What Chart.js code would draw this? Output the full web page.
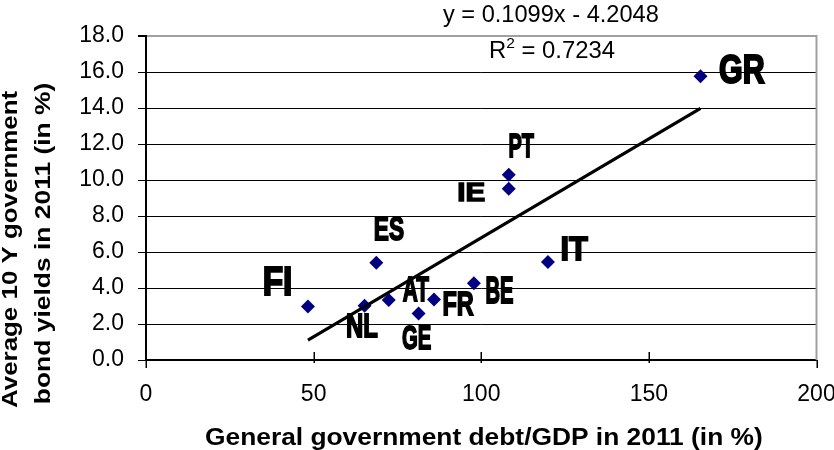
<!DOCTYPE html>
<html><head><meta charset="utf-8">
<script src="https://cdn.jsdelivr.net/npm/chart.js@4.4.1/dist/chart.umd.min.js"></script>
<style>html,body{margin:0;padding:0;background:#fff;}canvas{display:block;}</style>
</head><body>
<canvas id="c" width="834" height="450"></canvas>
<script>
// ---- data ----
const countries = ['FI','NL','ES','AT','GE','FR','BE','IT','IE','PT','GR'];
const debtToGdp = [48.3, 65.2, 68.7, 72.4, 81.3, 85.9, 97.8, 119.9, 108.2, 108.2, 165.4];
const bondYields = [2.97, 3.01, 5.40, 3.33, 2.58, 3.36, 4.26, 5.45, 9.51, 10.29, 15.77];
const xTickValues = [0, 50, 100, 150, 200];
const yTickValues = [0, 2, 4, 6, 8, 10, 12, 14, 16, 18];
const trendSlope = 0.1099;
const trendIntercept = -4.2048;
const equationText = 'y = 0.1099x - 4.2048';
const r2Value = '0.7234';
const xTitle = 'General government debt/GDP in 2011 (in %)';
const yTitleLines = ['Average 10 Y government', 'bond yields in 2011 (in %)'];

// ---- styles (positions/sizes of text annotations) ----
const FONT = '"Liberation Sans", Arial, sans-serif';
const labelStyle = {
  FI: {dx: -30, dy: -25, w: 26, h: 27},
  NL: {dx: -2, dy: 20, w: 30, h: 22},
  ES: {dx: 13, dy: -34, w: 28, h: 22},
  AT: {dx: 27, dy: -11, w: 26, h: 23},
  GE: {dx: -2, dy: 24, w: 28, h: 22},
  FR: {dx: 25, dy: 4, w: 30, h: 22},
  BE: {dx: 26, dy: 8, w: 26, h: 24},
  IT: {dx: 27, dy: -13, w: 25, h: 22},
  IE: {dx: -37, dy: 4, w: 25, h: 17},
  PT: {dx: 13, dy: -29, w: 24, h: 22},
  GR: {dx: 42, dy: -7, w: 45, h: 27}
};

const points = debtToGdp.map((x, i) => ({x: x, y: bondYields[i]}));
const xMin = Math.min(...debtToGdp), xMax = Math.max(...debtToGdp);
const trendPoints = [xMin, xMax].map(x => ({x: x, y: trendSlope * x + trendIntercept}));

function drawInkBox(ctx, text, cx, cy, w, h, weight) {
  ctx.save();
  ctx.font = weight + ' 30px ' + FONT;
  ctx.textAlign = 'left'; ctx.textBaseline = 'alphabetic';
  const m = ctx.measureText(text);
  const L = m.actualBoundingBoxLeft, R = m.actualBoundingBoxRight;
  const A = m.actualBoundingBoxAscent, D = m.actualBoundingBoxDescent;
  const sx = w / (L + R), sy = h / (A + D);
  ctx.translate(cx, cy);
  ctx.scale(sx, sy);
  ctx.lineWidth = 1.6;
  ctx.lineJoin = 'miter';
  ctx.strokeStyle = '#000';
  ctx.fillText(text, (L - R) / 2, (A - D) / 2);
  ctx.strokeText(text, (L - R) / 2, (A - D) / 2);
  ctx.restore();
}
function drawLine(ctx, text, x, y, size, inkW, weight, rotate) {
  ctx.save();
  ctx.font = weight + ' ' + size + 'px ' + FONT;
  ctx.textAlign = 'left'; ctx.textBaseline = 'alphabetic';
  const m = ctx.measureText(text);
  const L = m.actualBoundingBoxLeft, R = m.actualBoundingBoxRight;
  ctx.translate(x, y);
  if (rotate) ctx.rotate(-Math.PI / 2);
  ctx.scale(inkW / (L + R), 1);
  ctx.fillText(text, (L - R) / 2, 0);
  ctx.restore();
}

const annotPlugin = {
  id: 'annot',
  beforeDatasetsDraw(chart) {
    const ctx = chart.ctx, a = chart.chartArea, xs = chart.scales.x;
    ctx.save();
    ctx.strokeStyle = '#a0a0a0'; ctx.lineWidth = 2;
    ctx.beginPath(); ctx.moveTo(a.right, a.top - 1); ctx.lineTo(a.right, a.bottom); ctx.stroke();
    ctx.strokeStyle = '#000'; ctx.lineWidth = 1.5;
    xTickValues.forEach(v => {
      const px = Math.round(xs.getPixelForValue(v)) + 0.25;
      ctx.beginPath();
      if (v === xTickValues[0] || v === xTickValues[xTickValues.length - 1]) {
        ctx.moveTo(px, a.bottom); ctx.lineTo(px, a.bottom + 8);
      } else {
        ctx.moveTo(px, a.bottom - 8); ctx.lineTo(px, a.bottom + 3);
      }
      ctx.stroke();
    });
    ctx.restore();
  },
  afterDatasetsDraw(chart) {
    const ctx = chart.ctx, xs = chart.scales.x, ys = chart.scales.y;
    ctx.save();
    ctx.fillStyle = '#000';
    countries.forEach((c, i) => {
      const s = labelStyle[c];
      const px = xs.getPixelForValue(debtToGdp[i]), py = ys.getPixelForValue(bondYields[i]);
      drawInkBox(ctx, c, px + s.dx, py + s.dy, s.w, s.h, 'bold');
    });
    drawLine(ctx, equationText, 550.5, 22, 23, 215, 'normal', false);
    ctx.font = '23px ' + FONT;
    const wR = ctx.measureText('R').width;
    const rest = ' = ' + r2Value;
    const wRest = ctx.measureText(rest).width;
    ctx.font = '15px ' + FONT;
    const w2 = ctx.measureText('2').width;
    const total = wR + w2 + wRest;
    const sx = 126 / total;
    ctx.translate(489, 58); ctx.scale(sx, 1);
    ctx.textAlign = 'left'; ctx.textBaseline = 'alphabetic';
    ctx.font = '23px ' + FONT; ctx.fillText('R', 0, 0);
    ctx.font = '15px ' + FONT; ctx.fillText('2', wR, -10);
    ctx.font = '23px ' + FONT; ctx.fillText(rest, wR + w2, 0);
    ctx.restore();
    ctx.save();
    ctx.fillStyle = '#000';
    drawLine(ctx, xTitle, 483.5, 445, 23, 557, 'bold', false);
    drawLine(ctx, yTitleLines[0], 17, 249, 22, 318, 'bold', true);
    drawLine(ctx, yTitleLines[1], 49.5, 243, 22, 320, 'bold', true);
    ctx.restore();
  }
};

new Chart(document.getElementById('c'), {
  type: 'scatter',
  data: {
    datasets: [
      { type: 'line', data: trendPoints, borderColor: '#000', borderWidth: 3.2, pointRadius: 0, fill: false, order: 0 },
      { data: points, pointStyle: 'rectRot', pointRadius: 7, pointHoverRadius: 7,
        backgroundColor: '#000080', borderColor: '#000080', borderWidth: 0, order: 1 }
    ]
  },
  options: {
    responsive: false,
    animation: false,
    events: [],
    layout: { padding: { top: 36, right: 17.5, bottom: 0, left: 0 } },
    plugins: { legend: { display: false }, tooltip: { enabled: false } },
    scales: {
      x: {
        type: 'linear', min: 0, max: 200,
        afterBuildTicks: s => { s.ticks = xTickValues.map(v => ({value: v})); },
        ticks: { color: '#000', font: { family: FONT, size: 23 }, padding: 21, maxRotation: 0, callback: v => String(v) },
        grid: { drawOnChartArea: false, drawTicks: false },
        border: { display: true, color: '#000', width: 1.5 },
        afterFit: s => { s.height = 90; s.paddingLeft = 0; s.paddingRight = 0; }
      },
      y: {
        type: 'linear', min: 0, max: 18,
        afterBuildTicks: s => { s.ticks = yTickValues.map(v => ({value: v})); },
        ticks: { color: '#000', font: { family: FONT, size: 23 }, padding: 14, callback: v => Number(v).toFixed(1) },
        grid: {
          color: c => (c.tick && c.tick.value === 18) ? '#a0a0a0' : '#000',
          lineWidth: c => (c.tick && c.tick.value === 18) ? 2 : 1,
          tickColor: '#000', tickLength: 8
        },
        border: { color: '#000', width: 2 },
        afterFit: s => { s.width = 146; s.paddingTop = 0; s.paddingBottom = 0; }
      }
    }
  },
  plugins: [annotPlugin]
});
</script>
</body></html>
